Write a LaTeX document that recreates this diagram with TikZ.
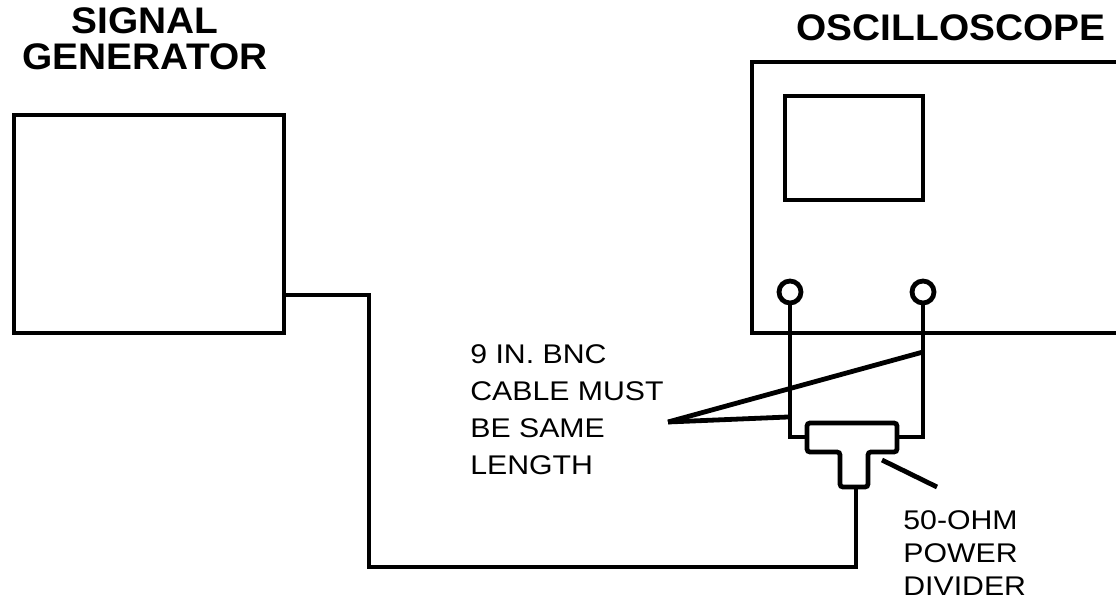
\documentclass[tikz,border=0pt]{standalone}
\usepackage{fontspec}
\setmainfont{Liberation Sans}
\newfontfamily\lblfont[FakeStretch=1.12]{Liberation Sans}
\newfontfamily\ttlfont[FakeStretch=1.05]{Liberation Sans}
\usetikzlibrary{positioning}

\begin{document}
\begin{tikzpicture}[x=0.5pt,y=-0.5pt,line width=2.4pt,
	lbl/.style={align=left,inner sep=0pt,font=\lblfont\fontsize{13.5}{18.5}\selectfont},
	ttl/.style={align=center,inner sep=0pt,font=\ttlfont\bfseries\fontsize{18.5}{18}\selectfont}]
	\useasboundingbox (0,0) rectangle (1116,605);
	% titles
	\node[ttl,anchor=north] (gentitle) at (145,5) {SIGNAL\\GENERATOR};
	\node[ttl,anchor=north] (scopetitle) at (951,12) {OSCILLOSCOPE};
	% signal generator
	\node[draw,inner sep=0pt,minimum width=135pt,minimum height=109pt] (gen) at (149,224) {};
	\coordinate (genout) at (284,295);
	% oscilloscope
	\draw (1116,62) -| (752,333) -- (1116,333);
	\node[draw,inner sep=0pt,minimum width=69pt,minimum height=52pt] (screen) at (854,148) {};
	\begin{scope}[every node/.style={circle,draw,inner sep=0pt,minimum size=11pt}]
		\node (k1) at (790,292) {};
		\node (k2) at (923,292) {};
	\end{scope}
	% power divider
	\draw[rounded corners=1.5pt] (807,423) -- (897,423) -- (897,452) -- (868,452) -- (868,487)
		-- (840,487) -- (840,452) -- (807,452) -- cycle;
	\coordinate (divL) at (807,437);
	\coordinate (divR) at (897,437);
	\coordinate (divB) at (856,487);
	% cables
	\draw (genout) -| (369,567) -| (divB);
	\draw (k1.south) |- (divL);
	\draw (k2.south) |- (divR);
	% labels
	\node[lbl,anchor=north west] (cablelbl) at (468,342) {9 IN. BNC\\CABLE MUST\\BE SAME\\LENGTH};
	\node[lbl,anchor=north west,font=\lblfont\fontsize{13.5}{16.5}\selectfont] (divlbl) at (901,508) {50-OHM\\POWER\\DIVIDER};
	\coordinate (tip) at (668,422);
	\coordinate (p1) at (923,352);
	\coordinate (p2) at (788,417);
	\coordinate (q1) at (882,460);
	\coordinate (q2) at (937,487);
	\draw (tip) -- (p1);
	\draw (tip) -- (p2);
	\draw (q1) -- (q2);
\end{tikzpicture}
\end{document}
